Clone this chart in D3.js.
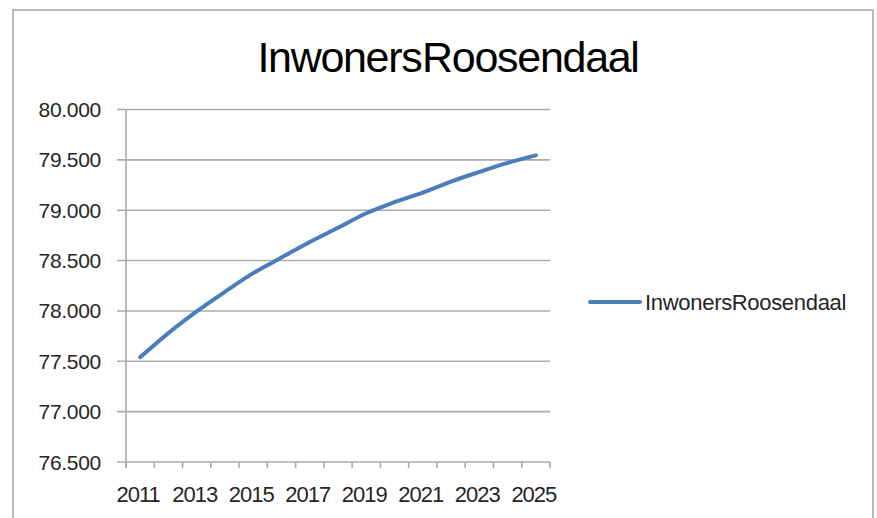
<!DOCTYPE html>
<html>
<head>
<meta charset="utf-8">
<script src="https://cdn.jsdelivr.net/npm/d3@7"></script>
<style>
    body { margin: 0; background: #fff; }
    svg { display: block; font-family: "Liberation Sans", Arial, sans-serif; }
</style>
</head>
<body>
<div id="chart"></div>
<script>
const years = ["2011", "2012", "2013", "2014", "2015", "2016", "2017", "2018",
    "2019", "2020", "2021", "2022", "2023", "2024", "2025"];
const inwoners = [77540, 77780, 77995, 78190, 78375, 78530, 78685, 78825,
    78970, 79080, 79175, 79285, 79380, 79470, 79545];
const yTicks = [76500, 77000, 77500, 78000, 78500, 79000, 79500, 80000];
const xLabels = ["2011", "2013", "2015", "2017", "2019", "2021", "2023", "2025"];
const seriesName = "Inwoners Roosendaal";
const title = "Inwoners Roosendaal";

const width = 877;
const height = 518;
const plotLeft = 126, plotRight = 550, plotTop = 109.5, plotBottom = 462;

const nl = d3.formatLocale({ decimal: ",", thousands: ".", grouping: [3], currency: ["€", ""] });
const fmt = nl.format(",d");

const svg = d3.select("#chart")
    .append("svg")
    .attr("width", width)
    .attr("height", height);

// outer frame
svg.append("rect")
    .attr("x", 13)
    .attr("y", 10)
    .attr("width", 860)
    .attr("height", 530)
    .attr("fill", "#fff")
    .attr("stroke", "#bcbcbc")
    .attr("stroke-width", 2);

const x = d3.scaleBand()
    .domain(years)
    .range([plotLeft, plotRight]);
const y = d3.scaleLinear()
    .domain([76500, 80000])
    .range([plotBottom, plotTop]);

// gridlines
svg.append("g")
    .selectAll("line")
    .data(yTicks)
    .enter()
    .append("line")
    .attr("x1", plotLeft - 9)
    .attr("x2", plotRight)
    .attr("y1", d => y(d))
    .attr("y2", d => y(d))
    .attr("stroke", "#ababab")
    .attr("stroke-width", 1.6);

// y axis line
svg.append("line")
    .attr("x1", plotLeft)
    .attr("x2", plotLeft)
    .attr("y1", plotTop)
    .attr("y2", plotBottom + 6)
    .attr("stroke", "#ababab")
    .attr("stroke-width", 1.6);

// x ticks at the category borders
const borders = years.map(d => x(d)).concat([x.range()[1]]);
svg.append("g")
    .selectAll("line")
    .data(borders)
    .enter()
    .append("line")
    .attr("x1", d => d)
    .attr("x2", d => d)
    .attr("y1", plotBottom)
    .attr("y2", plotBottom + 6)
    .attr("stroke", "#ababab")
    .attr("stroke-width", 1.6);

// y labels
svg.append("g")
    .selectAll("text")
    .data(yTicks)
    .enter()
    .append("text")
    .attr("x", 101)
    .attr("y", d => y(d))
    .attr("dy", "0.36em")
    .attr("text-anchor", "end")
    .attr("font-size", 21)
    .attr("letter-spacing", -0.3)
    .attr("fill", "#262626")
    .text(d => fmt(d));

// x labels
svg.append("g")
    .selectAll("text")
    .data(xLabels)
    .enter()
    .append("text")
    .attr("x", d => x(d) + x.bandwidth() / 2 - 2)
    .attr("y", 502)
    .attr("text-anchor", "middle")
    .attr("font-size", 22)
    .attr("letter-spacing", -1)
    .attr("fill", "#262626")
    .text(d => d);

// series line
const line = d3.line()
    .x((d, i) => x(years[i]) + x.bandwidth() / 2)
    .y(d => y(d))
    .curve(d3.curveMonotoneX);

svg.append("path")
    .datum(inwoners)
    .attr("d", line)
    .attr("fill", "none")
    .attr("stroke", "#4a7ebb")
    .attr("stroke-width", 4)
    .attr("stroke-linecap", "round")
    .attr("stroke-linejoin", "round");

// title
svg.append("text")
    .attr("x", 448)
    .attr("y", 72)
    .attr("text-anchor", "middle")
    .attr("font-size", 43)
    .attr("letter-spacing", -1.3)
    .attr("word-spacing", -10)
    .attr("fill", "#000")
    .text(title);

// legend
svg.append("line")
    .attr("x1", 590)
    .attr("x2", 640)
    .attr("y1", 302)
    .attr("y2", 302)
    .attr("stroke", "#4a7ebb")
    .attr("stroke-width", 4)
    .attr("stroke-linecap", "round");
svg.append("text")
    .attr("x", 645)
    .attr("y", 310)
    .attr("font-size", 22)
    .attr("letter-spacing", -0.3)
    .attr("word-spacing", -6)
    .attr("fill", "#262626")
    .text(seriesName);
</script>
</body>
</html>
